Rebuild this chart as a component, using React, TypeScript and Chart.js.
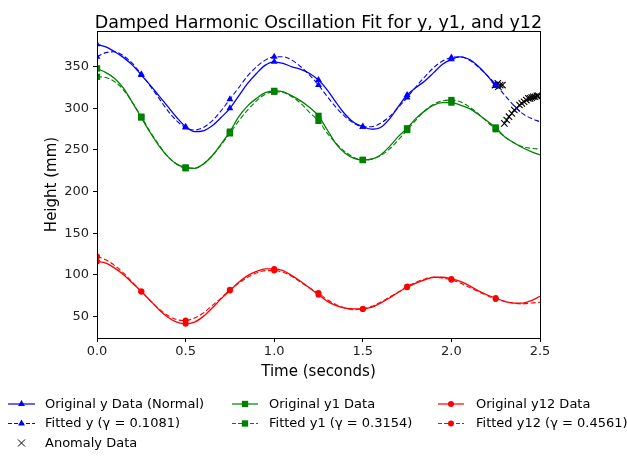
import React, { useEffect, useRef } from "react";
import { Chart, registerables } from "chart.js";

Chart.register(...registerables);

const TITLE = "Damped Harmonic Oscillation Fit for y, y1, and y12";
const X_LABEL = "Time (seconds)";
const Y_LABEL = "Height (mm)";

const TIME = [
  0, 0.05, 0.1, 0.15, 0.2, 0.25, 0.3, 0.35, 0.4, 0.45,
  0.5, 0.55, 0.6, 0.65, 0.7, 0.75, 0.8, 0.85, 0.9, 0.95,
  1.0, 1.05, 1.1, 1.15, 1.2, 1.25, 1.3, 1.35, 1.4, 1.45,
  1.5, 1.55, 1.6, 1.65, 1.7, 1.75, 1.8, 1.85, 1.9, 1.95,
  2.0, 2.05, 2.1, 2.15, 2.2, 2.25, 2.3, 2.35, 2.4, 2.45, 2.5,
];

const Y_ORIG = [
  377, 374, 368, 361, 352, 340, 328, 315, 302, 289,
  278, 272, 273, 279, 289, 300, 315, 330, 342, 352,
  356, 354, 350, 347, 342, 334, 322, 307, 293, 283,
  278, 275, 277, 287, 302, 316, 325, 333, 343, 353,
  359, 362, 359, 351, 340, 327,
];
const Y_FIT = [
  362, 367, 368, 363, 354, 341, 327, 312, 297, 285,
  277, 274, 277, 285, 297, 311, 325, 339, 350, 358,
  362, 362, 358, 350, 340, 328, 314, 301, 290, 282,
  278, 278, 282, 290, 301, 313, 326, 338, 349, 357,
  361, 362, 358, 350, 340, 329, 316, 304, 294, 288, 284,
];
const Y1_ORIG = [
  348, 343, 336, 324, 307, 289, 271, 255, 242, 233,
  229, 228, 233, 243, 257, 272, 290, 303, 312, 319,
  321, 320, 315, 309, 301, 291, 274, 257, 246, 240,
  238, 239, 244, 254, 266, 276, 288, 297, 304, 307,
  307, 304, 300, 293, 285, 277, 266, 259, 253, 248, 244,
];
const Y1_FIT = [
  338, 337, 332, 322, 307, 290, 272, 256, 242, 233,
  228, 228, 233, 243, 256, 270, 285, 298, 309, 317,
  320, 319, 314, 306, 295, 285, 270, 258, 248, 241,
  238, 239, 243, 251, 262, 274, 286, 297, 305, 309,
  310, 308, 302, 294, 284, 275, 266, 259, 254, 252, 251,
];
const Y12_ORIG = [
  116, 114, 108, 100, 90, 80, 69, 58, 49, 43,
  41, 43, 50, 60, 71, 81, 91, 99, 104, 107,
  107, 105, 99, 92, 84, 76, 68, 63, 60, 59,
  59, 61, 66, 72, 79, 85, 90, 94, 97, 97,
  95, 92, 87, 81, 76, 72, 68, 66, 66, 69, 74,
];
const Y12_FIT = [
  122, 118, 111, 102, 91, 80, 69, 59, 51, 46,
  45, 48, 54, 63, 72, 82, 90, 97, 102, 105,
  105, 103, 98, 91, 84, 78, 70, 64, 60, 58,
  59, 62, 67, 73, 79, 86, 91, 95, 97, 96,
  94, 90, 85, 80, 75, 71, 68, 66, 65, 66, 67,
];

const ANOMALY_T = [
  2.246, 2.262, 2.265, 2.275, 2.288,
  2.299, 2.312, 2.325, 2.341, 2.355, 2.369, 2.384, 2.397, 2.41,
  2.423, 2.434, 2.444, 2.453, 2.462, 2.472, 2.482, 2.49,
];
const ANOMALY_Y = [
  328, 330, 326, 328, 328,
  282, 286, 290, 294, 298, 300, 304, 306, 308,
  310, 312, 312, 313, 314, 314, 315, 315,
];

const X_TICKS = [0, 0.5, 1.0, 1.5, 2.0, 2.5];
const Y_TICKS = [50, 100, 150, 200, 250, 300, 350];

const BLUE = "#0000ff";
const GREEN = "#008000";
const RED = "#ff0000";
const FONT = '"DejaVu Sans", sans-serif';

function drawMarker(ctx: CanvasRenderingContext2D, style: string, x: number, y: number, r: number, color: string) {
  ctx.save();
  ctx.fillStyle = color;
  ctx.strokeStyle = color;
  ctx.beginPath();
  if (style === "triangle") {
    let rad = 0;
    ctx.moveTo(x + Math.sin(rad) * r, y - Math.cos(rad) * r);
    rad += (2 * Math.PI) / 3;
    ctx.lineTo(x + Math.sin(rad) * r, y - Math.cos(rad) * r);
    rad += (2 * Math.PI) / 3;
    ctx.lineTo(x + Math.sin(rad) * r, y - Math.cos(rad) * r);
    ctx.closePath();
    ctx.fill();
  } else if (style === "rect") {
    const s = Math.SQRT1_2 * r;
    ctx.rect(x - s, y - s, 2 * s, 2 * s);
    ctx.fill();
  } else if (style === "circle") {
    ctx.arc(x, y, r, 0, Math.PI * 2);
    ctx.fill();
  } else if (style === "crossRot") {
    const d = Math.SQRT1_2 * r;
    ctx.lineWidth = 1;
    ctx.moveTo(x - d, y - d);
    ctx.lineTo(x + d, y + d);
    ctx.moveTo(x - d, y + d);
    ctx.lineTo(x + d, y - d);
    ctx.stroke();
  }
  ctx.restore();
}

type LegendItem = {
  label: string;
  color: string;
  marker: string;
  r: number;
  line: "solid" | "dashed" | "none";
  col: number;
  row: number;
};

const LEGEND_ITEMS: LegendItem[] = [
  { label: "Original y Data (Normal)", color: BLUE, marker: "triangle", r: 4, line: "solid", col: 0, row: 0 },
  { label: "Fitted y (\u03b3 = 0.1081)", color: BLUE, marker: "triangle", r: 4, line: "dashed", col: 0, row: 1 },
  { label: "Anomaly Data", color: "#000", marker: "crossRot", r: 5, line: "none", col: 0, row: 2 },
  { label: "Original y1 Data", color: GREEN, marker: "rect", r: 4.5, line: "solid", col: 1, row: 0 },
  { label: "Fitted y1 (\u03b3 = 0.3154)", color: GREEN, marker: "rect", r: 4.5, line: "dashed", col: 1, row: 1 },
  { label: "Original y12 Data", color: RED, marker: "circle", r: 3, line: "solid", col: 2, row: 0 },
  { label: "Fitted y12 (\u03b3 = 0.4561)", color: RED, marker: "circle", r: 3, line: "dashed", col: 2, row: 1 },
];
const LEGEND_COLS = [
  { x0: 8, x1: 35, tx: 45 },
  { x0: 232, x1: 258, tx: 269 },
  { x0: 438, x1: 464, tx: 476 },
];
const LEGEND_ROWS = [404, 423.5, 443];

const decorPlugin = {
  id: "decor",
  afterDatasetsDraw(chart: any) {
    const { ctx, chartArea } = chart;
    ctx.save();
    ctx.strokeStyle = "#000";
    ctx.lineWidth = 1;
    ctx.strokeRect(
      Math.round(chartArea.left) + 0.5,
      Math.round(chartArea.top) + 0.5,
      Math.round(chartArea.right) - Math.round(chartArea.left),
      Math.round(chartArea.bottom) - Math.round(chartArea.top)
    );
    ctx.restore();
  },
  afterDraw(chart: any) {
    const { ctx, chartArea } = chart;
    ctx.save();
    ctx.fillStyle = "#000";
    ctx.font = `17.5px ${FONT}`;
    ctx.textAlign = "center";
    ctx.textBaseline = "alphabetic";
    ctx.fillText(TITLE, (chartArea.left + chartArea.right) / 2, 27.5);

    ctx.font = `13px ${FONT}`;
    ctx.textAlign = "left";
    ctx.textBaseline = "middle";
    for (const it of LEGEND_ITEMS) {
      const c = LEGEND_COLS[it.col];
      const y = LEGEND_ROWS[it.row];
      const mid = (c.x0 + c.x1) / 2;
      if (it.line !== "none") {
        ctx.save();
        ctx.strokeStyle = it.color;
        ctx.lineWidth = 1.2;
        if (it.line === "dashed") ctx.setLineDash([4, 2]);
        ctx.beginPath();
        ctx.moveTo(c.x0, y);
        ctx.lineTo(c.x1, y);
        ctx.stroke();
        ctx.restore();
      }
      drawMarker(ctx, it.marker, mid, y, it.r, it.color);
      ctx.fillStyle = "#000";
      ctx.fillText(it.label, c.tx, y + 0.5);
    }
    ctx.restore();
  },
};

export default function App() {
  const ref = useRef<HTMLCanvasElement>(null);

  useEffect(() => {
    document.body.style.margin = "0";
    const canvas = ref.current;
    if (!canvas) return;
    Chart.defaults.font.family = FONT;
    Chart.defaults.color = "#000";

    const pts = (arr: number[]) => arr.map((v, i) => ({ x: TIME[i], y: v }));
    const every = (r: number) => (c: any) => (c.dataIndex % 5 === 0 && c.dataIndex < 50 ? r : 0);

    const series = (label: string, data: number[], color: string, style: string, r: number, dashed: boolean) => ({
      label,
      data: pts(data),
      borderColor: color,
      backgroundColor: color,
      borderWidth: dashed ? 1.1 : 1.3,
      borderDash: dashed ? [5, 2.5] : [],
      pointStyle: style,
      pointRadius: every(r),
      pointHoverRadius: every(r),
      pointBorderWidth: 0,
      pointBackgroundColor: color,
      tension: 0.4,
      cubicInterpolationMode: "monotone",
      clip: 0,
      fill: false,
    });

    const chart = new Chart(canvas, {
      type: "line",
      data: {
        datasets: [
          series("Original y Data (Normal)", Y_ORIG, BLUE, "triangle", 4, false),
          series("Fitted y (\u03b3 = 0.1081)", Y_FIT, BLUE, "triangle", 4, true),
          series("Original y1 Data", Y1_ORIG, GREEN, "rect", 4.5, false),
          series("Fitted y1 (\u03b3 = 0.3154)", Y1_FIT, GREEN, "rect", 4.5, true),
          series("Original y12 Data", Y12_ORIG, RED, "circle", 3, false),
          series("Fitted y12 (\u03b3 = 0.4561)", Y12_FIT, RED, "circle", 3, true),
          {
            label: "Anomaly Data",
            data: ANOMALY_T.map((t, i) => ({ x: t, y: ANOMALY_Y[i] })),
            showLine: false,
            pointStyle: "crossRot",
            pointRadius: 4.5,
            pointBorderWidth: 1.1,
            borderColor: "#000",
            backgroundColor: "#000",
            pointBorderColor: "#000",
            clip: 0,
          } as any,
        ],
      },
      options: {
        animation: false,
        responsive: true,
        maintainAspectRatio: false,
        events: [],
        layout: { padding: { left: 35, top: 31, right: 87, bottom: 72 } },
        plugins: {
          legend: { display: false },
          title: { display: false },
          tooltip: { enabled: false },
        },
        scales: {
          x: {
            type: "linear",
            min: 0,
            max: 2.5,
            afterBuildTicks: (s: any) => {
              s.ticks = X_TICKS.map((v) => ({ value: v }));
            },
            afterFit: (s: any) => {
              s.height = 47;
            },
            ticks: {
              font: { size: 13 },
              color: "#222",
              padding: 2,
              maxRotation: 0,
              callback: (v: any) => Number(v).toFixed(1),
            },
            grid: { drawOnChartArea: false, drawTicks: true, tickLength: 4, color: "#000" },
            border: { display: true, color: "#000" },
            title: { display: true, text: X_LABEL, font: { size: 15 }, color: "#000", padding: { top: 4, bottom: 4 } },
          },
          y: {
            type: "linear",
            min: 24,
            max: 393,
            afterBuildTicks: (s: any) => {
              s.ticks = Y_TICKS.map((v) => ({ value: v }));
            },
            afterFit: (s: any) => {
              s.width = 62;
            },
            ticks: { font: { size: 13 }, color: "#222", padding: 4 },
            grid: { drawOnChartArea: false, drawTicks: true, tickLength: 4, color: "#000" },
            border: { display: true, color: "#000" },
            title: { display: true, text: Y_LABEL, font: { size: 15 }, color: "#000", padding: { top: 8, bottom: 0 } },
          },
        },
      } as any,
      plugins: [decorPlugin],
    });

    return () => chart.destroy();
  }, []);

  return (
    <div style={{ position: "relative", width: 627, height: 457 }}>
      <canvas ref={ref} />
    </div>
  );
}
